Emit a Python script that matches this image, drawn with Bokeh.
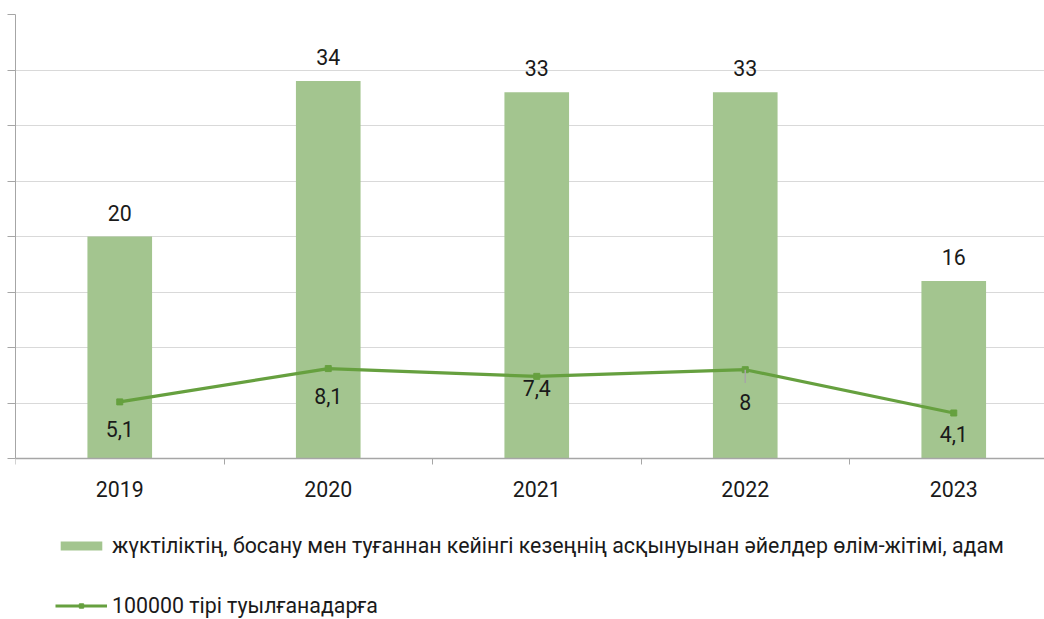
from bokeh.plotting import figure
from bokeh.models import (Range1d, FixedTicker, Legend, LegendItem, ColumnDataSource,
                          LabelSet)
from bokeh.core.properties import value
from bokeh.embed import file_html
from bokeh.resources import INLINE

# ---- data ----
years = ["2019", "2020", "2021", "2022", "2023"]
deaths = [20, 34, 33, 33, 16]
rate = [5.1, 8.1, 7.4, 8, 4.1]
deaths_labels = ["20", "34", "33", "33", "16"]
rate_labels = ["5,1", "8,1", "7,4", "8", "4,1"]
bar_name = "жүктіліктің, босану мен туғаннан кейінгі кезеңнің асқынуынан әйелдер өлім-жітімі, адам"
line_name = "100000 тірі туылғанадарға"

# ---- style ----
BAR_COLOR = "#A3C58F"
LINE_COLOR = "#66A03F"
TEXT_COLOR = "#1a1a1a"
AXIS_COLOR = "#a6a6a6"
FONT = "Roboto"
FS = "21.33px"
rate_label_dy = [27, 27, 12, 32, 21]

W, H = 1044, 619
LEFT, TOP = 15, 14
ZERO_PX = 458            # screen y of the value axis zero
YMAX = 40
CAT_PX = 208.5
frame_w = W - LEFT
px_per_unit = (ZERO_PX - TOP) / YMAX
y_start = -(H - ZERO_PX) / px_per_unit
xs = list(range(len(years)))
y_ticks = list(range(0, YMAX + 1, 5))

p = figure(width=W, height=H, output_backend="svg", toolbar_location=None,
           x_range=Range1d(-0.5, -0.5 + frame_w / CAT_PX), y_range=Range1d(y_start, YMAX),
           min_border_left=LEFT, min_border_right=0, min_border_top=TOP,
           min_border_bottom=0, outline_line_color=None)
p.background_fill_color = "white"
p.border_fill_color = "white"

src = ColumnDataSource(dict(x=xs, deaths=deaths, rate=rate, dl=deaths_labels))

bars = p.vbar(x="x", top="deaths", width=0.31, source=src, fill_color=BAR_COLOR,
              line_color=None)
line = p.line(x="x", y="rate", source=src, line_color=LINE_COLOR, line_width=3.2)
marks = p.scatter(x="x", y="rate", source=src, marker="square", size=6,
                  fill_color=LINE_COLOR, line_color=LINE_COLOR)

# leader line for the "8" label
p.segment(x0=[xs[3]], y0=[rate[3]], x1=[xs[3]], y1=[rate[3] - 1.2],
          line_color=AXIS_COLOR, line_width=1.5)

bar_labels = LabelSet(x="x", y="deaths", text="dl", source=src, y_offset=24,
                      text_align="center", text_baseline="middle",
                      text_font=value(FONT), text_font_size=FS, text_color=TEXT_COLOR)
p.add_layout(bar_labels)
rate_src = ColumnDataSource(dict(x=xs, y=rate, t=rate_labels,
                                 yo=[-d for d in rate_label_dy]))
rate_lbls = LabelSet(x="x", y="y", text="t", source=rate_src, y_offset="yo",
                     text_align="center", text_baseline="middle",
                     text_font=value(FONT), text_font_size=FS, text_color=TEXT_COLOR)
p.add_layout(rate_lbls)

# grid
p.xgrid.grid_line_color = None
p.ygrid.ticker = FixedTicker(ticks=y_ticks[1:])
p.ygrid.grid_line_color = "#d9d9d9"
p.ygrid.grid_line_width = 1.2

# y axis (no labels)
p.yaxis.ticker = FixedTicker(ticks=y_ticks)
p.yaxis.bounds = (0, YMAX)
p.yaxis.major_label_overrides = {t: "" for t in y_ticks}
p.yaxis.major_label_standoff = 0
p.yaxis.major_tick_out = 8
p.yaxis.major_tick_in = 0
p.yaxis.minor_tick_line_color = None
p.yaxis.axis_line_color = AXIS_COLOR
p.yaxis.major_tick_line_color = AXIS_COLOR

# x axis, pinned at value zero
p.xaxis.fixed_location = 0
p.xaxis.ticker = FixedTicker(ticks=xs, minor_ticks=[i - 0.5 for i in range(len(years) + 1)])
p.xaxis.major_label_overrides = {i: y for i, y in enumerate(years)}
p.xaxis.major_tick_out = 0
p.xaxis.major_tick_in = 0
p.xaxis.minor_tick_out = 6
p.xaxis.minor_tick_in = 0
p.xaxis.minor_tick_line_color = AXIS_COLOR
p.xaxis.axis_line_color = AXIS_COLOR
p.xaxis.axis_line_width = 1.5
p.xaxis.major_label_standoff = 16
p.xaxis.major_label_text_font = FONT
p.xaxis.major_label_text_font_size = FS
p.xaxis.major_label_text_color = TEXT_COLOR

legend = Legend(items=[LegendItem(label=bar_name, renderers=[bars]),
                       LegendItem(label=line_name, renderers=[line, marks])],
                location=(40, 1), orientation="vertical",
                glyph_width=52, glyph_height=11, label_height=24, spacing=35,
                label_standoff=5, padding=0, margin=0,
                border_line_color=None, background_fill_alpha=0,
                label_text_font=FONT, label_text_font_size=FS,
                label_text_color=TEXT_COLOR)
p.add_layout(legend, "center")

open("out.html", "w").write(file_html(p, INLINE))
